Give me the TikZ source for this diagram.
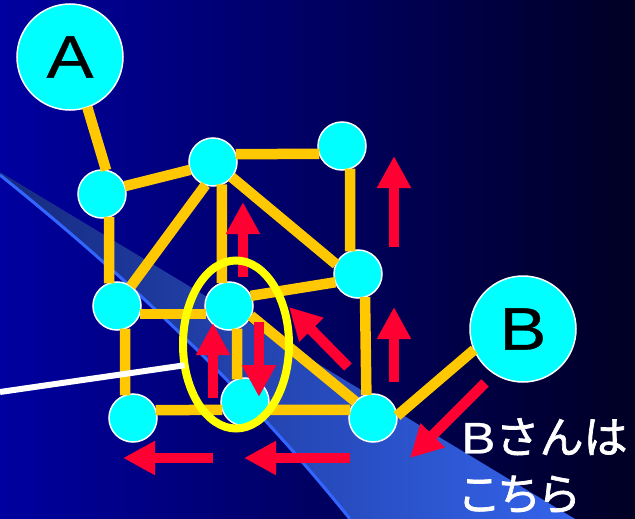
\documentclass[tikz,border=0pt]{standalone}
\usepackage{fontspec}
\setmainfont{Liberation Sans}
\newfontfamily\wide[FakeStretch=1.17, FakeBold=0.6]{Liberation Sans}
\newfontfamily\cjk[FakeBold=1.6]{Noto Sans CJK JP}
\usetikzlibrary{arrows.meta}
\usetikzlibrary{shapes.geometric}
\definecolor{bgl}{RGB}{0, 0, 160}
\definecolor{bgr}{RGB}{0, 0, 36}
\definecolor{wedgel}{RGB}{22, 42, 128}
\definecolor{wedger}{RGB}{52, 100, 235}
\definecolor{rim}{RGB}{51, 102, 255}
\definecolor{cc}{RGB}{255, 200, 0}
\definecolor{rd}{RGB}{255, 0, 51}
\definecolor{aqua}{RGB}{0, 255, 255}
\definecolor{yl}{RGB}{255, 255, 0}
\tikzset{
  dot/.style={circle, minimum size=48pt, inner sep=0pt, outer sep=0pt, fill=aqua, line width=1.5pt, draw=white},
  bigdot/.style={circle, minimum size=106pt, inner sep=0pt, outer sep=0pt, fill=aqua, line width=1.5pt, draw=white, font=\wide\fontsize{60}{60}\selectfont},
  wire/.style={line width=10.5pt, color=cc},
  mover/.style={line width=10.5pt, color=rd, -{Triangle[length=32pt, width=32pt]}}
}
\begin{document}
\begin{tikzpicture}
\useasboundingbox (0pt, 0pt) rectangle (635pt, -519pt);
\clip (0pt, 0pt) rectangle (635pt, -519pt);
\shade [left color=bgl, right color=bgr] (0pt, 0pt) rectangle (635pt, -519pt);
\shade [left color=wedgel, right color=wedger] (0pt, -172pt) -- (575pt, -519pt) -- (350pt, -519pt) .. controls (240pt, -382pt) and (117pt, -269pt) .. (0pt, -175pt) -- cycle;
\draw [line width=3pt, color=rim] (350pt, -519pt) .. controls (240pt, -382pt) and (117pt, -269pt) .. (0pt, -175pt);
\node (a) [bigdot] at (70pt, -57pt) {A};
\node (b) [bigdot] at (523pt, -329pt) {B};
\node (1) [dot] at (102pt, -194pt) {};
\node (2) [dot] at (213pt, -162pt) {};
\node (3) [dot] at (342pt, -146pt) {};
\node (4) [dot] at (358pt, -274pt) {};
\node (5) [dot] at (117pt, -306pt) {};
\node (6) [dot] at (229pt, -306pt) {};
\node (7) [dot] at (133pt, -418pt) {};
\node (8) [dot] at (245pt, -402pt) {};
\node (9) [dot] at (373pt, -418pt) {};
\draw [wire] (a.-71) to (1.80);
\draw [wire] (b.203) to (9.5);
\draw [wire] (1.19) to (2.199);
\draw [wire] (2.19.5) to (3.199.5);
\draw [wire] (2.252) to (5.55);
\draw [wire] (2.-39) to (4.156);
\draw [wire] (2.-68) to (6.107);
\draw [wire] (1.-73) to (5.109);
\draw [wire] (3.-70.5) to (4.109.5);
\draw [wire] (6.25) to (4.200);
\draw [wire] (6.-24) to (9.137);
\draw [wire] (5.-19.5) to (6.199.5);
\draw [wire] (5.-70.5) to (7.109.5);
\draw [wire] (6.-70.5) to (8.109.5);
\draw [wire] (4.-73) to (9.106);
\draw [wire] (7.19.5) to (8.199.5);
\draw [wire] (8.-19.5) to (9.160.5);
\draw [mover] (243pt, -277pt) to (243pt, -202pt);
\draw [mover] (394pt, -247pt) to (394pt, -156pt);
\draw [mover] (394pt, -382pt) to (394pt, -307pt);
\draw [mover] (213pt, -398pt) to (213pt, -323pt);
\draw [mover] (259pt, -322pt) to (259pt, -397pt);
\draw [mover] (213pt, -458pt) to (123pt, -458pt);
\draw [mover] (350pt, -458pt) to (244pt, -458pt);
\draw [mover] (348pt, -367pt) to (289pt, -307pt);
\draw [mover] (485pt, -383pt) to (410pt, -458pt);
\node (e) [ellipse, minimum width=106pt, minimum height=168pt, inner sep=0pt, outer sep=0pt, line width=8pt, draw=yl] at (236pt, -344.5pt) {};
\coordinate (w) at (0pt, -392pt);
\draw [line width=6pt, color=white] (w) to (e.202.5);
\node (t) [anchor=north west, inner sep=0pt, text=white, align=left, font=\fontsize{44}{57}\selectfont] at (461pt, -418pt) {{\wide B}{\cjk さんは}\\\hspace*{-4pt}{\cjk こ\kern-4pt ち\kern-4pt ら}};
\end{tikzpicture}
\end{document}
